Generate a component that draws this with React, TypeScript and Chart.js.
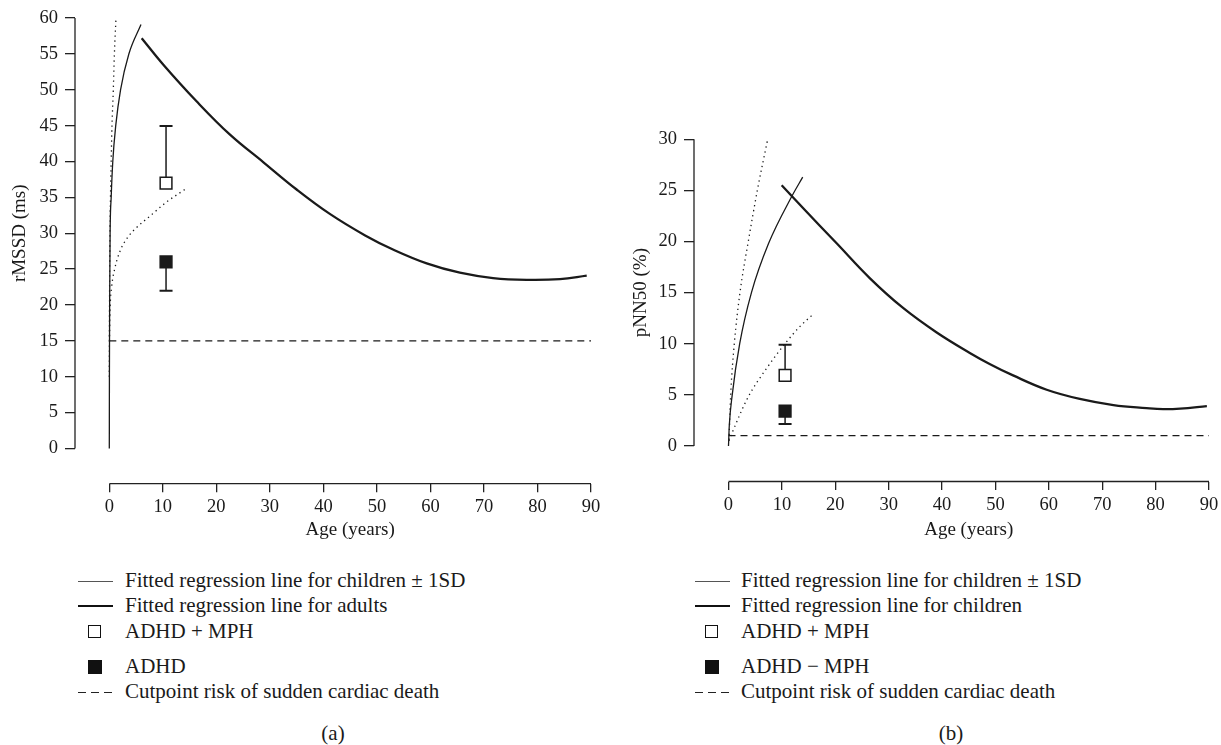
import React, { useEffect, useRef } from 'react';
import { Chart, registerables } from 'chart.js';
Chart.register(...registerables);

const FONT = '"Liberation Serif", "Times New Roman", serif';
const INK = '#1a1a1a';

// ---------- tick labels ----------
const ageTicks = [0, 10, 20, 30, 40, 50, 60, 70, 80, 90];
const rmssdTicks = [0, 5, 10, 15, 20, 25, 30, 35, 40, 45, 50, 55, 60];
const pnn50Ticks = [0, 5, 10, 15, 20, 25, 30];

type Pt = [number, number];

// ---------- panel (a): rMSSD ----------
const rmssdChildFit: Pt[] = [[0, 0], [0.02, 10], [0.06, 20], [0.15, 30], [0.35, 35], [0.65, 40], [1.2, 45], [2.1, 50], [3.65, 55], [5.92, 59.1]];
const rmssdChildUpper: Pt[] = [[0, 10], [0.04, 20], [0.12, 30], [0.22, 35], [0.35, 40], [0.5, 45], [0.75, 50], [0.95, 55], [1.25, 60]];
const rmssdChildLower: Pt[] = [[0.02, 15], [0.12, 19], [0.44, 22.5], [1.06, 25.2], [2, 27.5], [3.5, 29.5], [5.1, 30.8], [7.6, 32.4], [10.6, 34.3], [14.3, 36.2]];
const rmssdAdultFit: Pt[] = [[6.05, 57.2], [10.1, 53.5], [16.3, 48.4], [22.55, 43.75], [28.8, 39.9], [35, 36.1], [41.2, 32.7], [47.8, 29.7], [53.1, 27.7], [59.3, 25.8], [65.5, 24.5], [71.7, 23.75], [78, 23.5], [84.2, 23.6], [89.2, 24.1]];
const rmssdCutpoint: Pt[] = [[0, 15], [90, 15]];
const rmssdAdhdMph = { age: 10.6, value: 37.0, bar: 44.95 };
const rmssdAdhd = { age: 10.6, value: 26.0, bar: 22.0 };

// ---------- panel (b): pNN50 ----------
const pnnChildFit: Pt[] = [[0, 0], [0.15, 2], [0.7, 5], [2.1, 10], [4.3, 15], [7.5, 19.8], [11.84, 24.4], [13.9, 26.3]];
const pnnChildUpper: Pt[] = [[0.1, 0.6], [0.41, 5], [1.09, 10], [2.15, 15], [3.71, 20], [5.4, 25], [7.34, 30]];
const pnnChildLower: Pt[] = [[0.1, 0.5], [0.9, 1.56], [3.7, 4.8], [7.15, 7.6], [10.9, 10.2], [13.4, 11.7], [15.9, 12.9]];
const pnnAdultFit: Pt[] = [[9.96, 25.5], [14, 23.25], [20.3, 19.8], [26.5, 16.4], [32.7, 13.5], [39, 11.1], [45.2, 9.1], [49, 8.0], [53.3, 6.9], [59.6, 5.5], [65.8, 4.6], [72.1, 4.0], [78.3, 3.7], [81.4, 3.6], [84.6, 3.65], [89.6, 3.9]];
const pnnCutpoint: Pt[] = [[0, 1], [90, 1]];
const pnnAdhdMph = { age: 10.6, value: 6.9, bar: 9.9 };
const pnnAdhdNoMph = { age: 10.6, value: 3.4, bar: 2.15 };

// ---------- legend texts ----------
const legendA = [
  { kind: 'thin', text: 'Fitted regression line for children ± 1SD' },
  { kind: 'thick', text: 'Fitted regression line for adults' },
  { kind: 'open', text: 'ADHD + MPH' },
  { kind: 'filled', text: 'ADHD' },
  { kind: 'dash', text: 'Cutpoint risk of sudden cardiac death' },
];
const legendB = [
  { kind: 'thin', text: 'Fitted regression line for children ± 1SD' },
  { kind: 'thick', text: 'Fitted regression line for children' },
  { kind: 'open', text: 'ADHD + MPH' },
  { kind: 'filled', text: 'ADHD − MPH' },
  { kind: 'dash', text: 'Cutpoint risk of sudden cardiac death' },
];

const xy = (pts: Pt[]) => pts.map(([x, y]) => ({ x, y }));

const detachedAxes = {
  id: 'detachedAxes',
  afterDraw(chart: any, _args: any, opts: any) {
    const { ctx, chartArea } = chart;
    const xs = chart.scales.x;
    const ys = chart.scales.y;
    const x0 = xs.getPixelForValue(opts.xFirst);
    const x1 = xs.getPixelForValue(opts.xLast);
    const y0 = ys.getPixelForValue(opts.yFirst);
    const y1 = ys.getPixelForValue(opts.yLast);
    ctx.save();
    ctx.strokeStyle = '#222';
    ctx.lineWidth = 1.3;
    ctx.beginPath();
    ctx.moveTo(chartArea.left, y0);
    ctx.lineTo(chartArea.left, y1);
    ctx.moveTo(x0, chartArea.bottom);
    ctx.lineTo(x1, chartArea.bottom);
    ctx.stroke();
    ctx.fillStyle = INK;
    ctx.font = `${opts.titleSize}px ${FONT}`;
    ctx.textAlign = 'center';
    ctx.textBaseline = 'middle';
    ctx.fillText(opts.xTitle, (x0 + x1) / 2, opts.xTitleY);
    ctx.translate(opts.yTitleX, (y0 + y1) / 2);
    ctx.rotate(-Math.PI / 2);
    ctx.fillText(opts.yTitle, 0, 0);
    ctx.restore();
  },
};

function Panel({ s }: { s: any }) {
  const ref = useRef<HTMLCanvasElement>(null);
  useEffect(() => {
    if (!ref.current) return;
    const line = (pts: Pt[], extra: any) => ({
      data: xy(pts), borderColor: INK, borderWidth: 1.3, pointRadius: 0,
      cubicInterpolationMode: 'monotone', fill: false, order: 3, ...extra,
    });
    const errBar = (p: { age: number; value: number; bar: number }) => ({
      data: [{ x: p.age, y: p.value }, { x: p.age, y: p.bar }],
      borderColor: INK, borderWidth: 1.5, pointStyle: 'line', pointRadius: [0, 6.5],
      pointBorderColor: INK, pointBorderWidth: 2, tension: 0, order: 2,
    });
    const square = (p: { age: number; value: number }, fillColor: string) => ({
      data: [{ x: p.age, y: p.value }], showLine: false, pointStyle: 'rect', pointRadius: 8.3,
      pointBackgroundColor: fillColor, pointBorderColor: INK, pointBorderWidth: 1.5, order: 1,
    });
    const yTicks: number[] = s.yTicks;
    const chart = new Chart(ref.current, {
      type: 'line',
      data: {
        datasets: [
          line(s.childUpper, { borderDash: [1.3, 3.7] }),
          line(s.childLower, { borderDash: [1.3, 3.7] }),
          line(s.childFit, {}),
          line(s.adultFit, { borderWidth: 2.3, cubicInterpolationMode: 'default', tension: 0.4 }),
          line(s.cutpoint, { borderDash: [7, 5], tension: 0, cubicInterpolationMode: 'default' }),
          errBar(s.mph),
          errBar(s.noMph),
          square(s.mph, '#ffffff'),
          square(s.noMph, INK),
        ] as any,
      },
      options: {
        animation: false,
        responsive: false,
        layout: { padding: { top: s.padTop, right: s.width - s.axisLeft - s.plotWidth, left: 0, bottom: 0 } },
        plugins: {
          legend: { display: false },
          tooltip: { enabled: false },
          detachedAxes: {
            xFirst: ageTicks[0], xLast: ageTicks[ageTicks.length - 1],
            yFirst: yTicks[0], yLast: yTicks[yTicks.length - 1],
            xTitle: 'Age (years)', yTitle: s.yTitle, titleSize: 19,
            xTitleY: 530, yTitleX: s.yTitleX,
          },
        } as any,
        scales: {
          x: {
            type: 'linear', min: s.xMin, max: 90,
            afterBuildTicks: (sc: any) => { sc.ticks = ageTicks.map((v) => ({ value: v })); },
            afterFit: (sc: any) => { sc.height = s.height - s.xAxisY; },
            grid: { display: true, drawOnChartArea: false, drawTicks: true, tickLength: 8.6, color: '#222', lineWidth: 1.3 },
            border: { display: false },
            ticks: { autoSkip: false, maxRotation: 0, padding: 4, color: INK, font: { family: FONT, size: 18.5 }, callback: (v: any) => String(v) },
          },
          y: {
            type: 'linear', min: s.yMin, max: yTicks[yTicks.length - 1],
            afterBuildTicks: (sc: any) => { sc.ticks = yTicks.map((v) => ({ value: v })); },
            afterFit: (sc: any) => { sc.width = s.axisLeft; },
            grid: { display: true, drawOnChartArea: false, drawTicks: true, tickLength: 10, color: '#222', lineWidth: 1.3 },
            border: { display: false },
            ticks: { autoSkip: false, padding: 7, color: INK, font: { family: FONT, size: 18.5 }, callback: (v: any) => String(v) },
          },
        },
      } as any,
      plugins: [detachedAxes as any],
    });
    return () => chart.destroy();
  }, [s]);
  return (
    <canvas ref={ref} width={s.width} height={s.height}
      style={{ position: 'absolute', left: s.left, top: 0, width: s.width, height: s.height }} />
  );
}

function Legend({ rows, lineX, textX, caption, captionX }: any) {
  const centers = [580, 605, 631, 666, 691];
  return (
    <>
      {rows.map((r: any, i: number) => {
        const cy = centers[i];
        let sample: any = null;
        if (r.kind === 'thin') sample = <div style={{ position: 'absolute', left: lineX, top: cy + 1, width: 35, height: 0, borderTop: '1.2px solid #555' }} />;
        if (r.kind === 'thick') sample = <div style={{ position: 'absolute', left: lineX, top: cy, width: 35, height: 0, borderTop: '2px solid #111' }} />;
        if (r.kind === 'open') sample = <div style={{ position: 'absolute', left: lineX + 10, top: cy - 6, width: 11, height: 11, border: '1.5px solid #111', background: '#fff' }} />;
        if (r.kind === 'filled') sample = <div style={{ position: 'absolute', left: lineX + 10, top: cy - 6, width: 14, height: 14, background: '#111' }} />;
        if (r.kind === 'dash') sample = (
          <>
            {[0, 13, 26].map((d) => (
              <div key={d} style={{ position: 'absolute', left: lineX + d, top: cy + 1, width: 8, height: 0, borderTop: '1.3px solid #222' }} />
            ))}
          </>
        );
        return (
          <React.Fragment key={i}>
            {sample}
            <div style={{ position: 'absolute', left: textX, top: cy - 12, height: 24, lineHeight: '24px', fontSize: 21, fontFamily: FONT, whiteSpace: 'nowrap', color: INK }}>{r.text}</div>
          </React.Fragment>
        );
      })}
      <div style={{ position: 'absolute', left: captionX - 40, width: 80, textAlign: 'center', top: 733 - 12, height: 24, lineHeight: '24px', fontSize: 21, fontFamily: FONT, color: INK }}>{caption}</div>
    </>
  );
}

const specA = {
  left: 0, width: 610, height: 545, axisLeft: 75, plotWidth: 516, padTop: 16.3, xAxisY: 483.6,
  xMin: -6.41, yMin: -4.9, yTicks: rmssdTicks, yTitle: 'rMSSD (ms)', yTitleX: 20,
  childFit: rmssdChildFit, childUpper: rmssdChildUpper, childLower: rmssdChildLower,
  adultFit: rmssdAdultFit, cutpoint: rmssdCutpoint, mph: rmssdAdhdMph, noMph: rmssdAdhd,
};
const specB = {
  left: 615, width: 620, height: 545, axisLeft: 79, plotWidth: 515, padTop: 139.3, xAxisY: 481.5,
  xMin: -6.46, yMin: -3.48, yTicks: pnn50Ticks, yTitle: 'pNN50 (%)', yTitleX: 26,
  childFit: pnnChildFit, childUpper: pnnChildUpper, childLower: pnnChildLower,
  adultFit: pnnAdultFit, cutpoint: pnnCutpoint, mph: pnnAdhdMph, noMph: pnnAdhdNoMph,
};

export default function App() {
  return (
    <div style={{ position: 'fixed', left: 0, top: 0, width: 1221, height: 745, overflow: 'hidden', background: '#fff', fontFamily: FONT }}>
      <Panel s={specA} />
      <Panel s={specB} />
      <Legend rows={legendA} lineX={78} textX={125} caption="(a)" captionX={333} />
      <Legend rows={legendB} lineX={695} textX={741} caption="(b)" captionX={951} />
    </div>
  );
}
